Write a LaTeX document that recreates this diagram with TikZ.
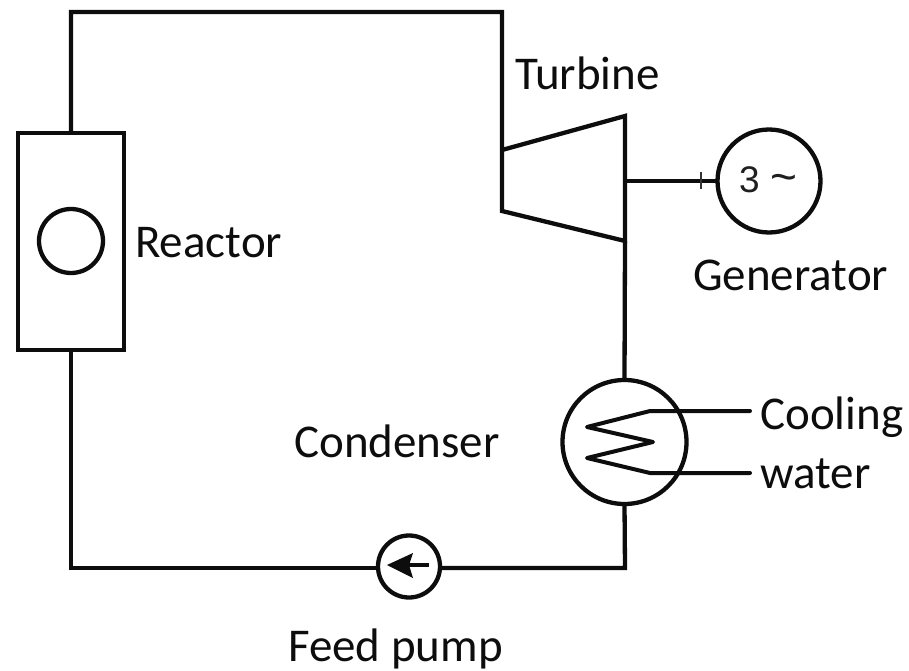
\documentclass[tikz,border=0pt]{standalone}
\usepackage{fontspec}
\setmainfont{Carlito}
\newfontfamily\genfont{Liberation Sans}
\begin{document}
\begin{tikzpicture}[x=1pt,y=-1pt,
  pipe/.style={line width=4.3pt,draw=black!95,line join=miter},
  thin pipe/.style={line width=4pt,draw=black!95},
  ring/.style={circle,draw=black!95,line width=4.3pt,fill=white,inner sep=0pt,minimum size=#1,outer sep=0pt},
  lab/.style={font=\fontsize{47}{47}\selectfont,inner sep=0pt,text=black!95}]
\useasboundingbox (0,0) rectangle (909,671);
% turbine corners and junctions
\coordinate (tl1) at (502,150);
\coordinate (tl2) at (502,211);
\coordinate (tr1) at (625,116);
\coordinate (tr2) at (625,241);
\coordinate (ts) at (625,181);
\coordinate (c1) at (71,12);
\coordinate (c2) at (502,12);
\coordinate (c3) at (71,568);
\coordinate (c4) at (625,568);
% components
\node[draw=black!95,line width=4.3pt,fill=white,minimum width=106pt,minimum height=217pt,inner sep=0pt,outer sep=0pt] (reactor) at (71,241.5) {};
\node[ring=64pt] (core) at (71,241) {};
\node[ring=103pt] (gen) at (769,181) {};
\node[font=\genfont\fontsize{37}{37}\selectfont,inner sep=0pt,text=black!88] (gentext) at (768,180) {3 \fontsize{46}{46}\selectfont\textasciitilde};
\node[ring=124pt] (cond) at (624.5,442) {};
\node[ring=62pt] (pump) at (409,566.5) {};
% pipes
\draw[pipe] (reactor.north -| c1) -- (c1) -- (c2) -- (tl2) -- (tr2) -- (tr1) -- (tl1);
\draw[pipe] (tr2) -- (cond.north);
\draw[pipe] (cond.south) -- (c4) -- (pump.east |- c4);
\draw[pipe] (pump.west |- c3) -- (c3) -- (reactor.south -| c3);
\draw[thin pipe] (ts) -- (gen.west);
\coordinate (tick1) at (701,172);
\coordinate (tick2) at (701,189);
\draw[line width=2pt,draw=black!80] (tick1) -- (tick2);
% coil
\coordinate (cw1) at (750,411);
\coordinate (cw2) at (750,473);
\draw[thin pipe,line join=round,line cap=round] (cw1) -- (650,411) -- (587,427) -- (653,442) -- (587,458) -- (650,473) -- (cw2);
% pump arrow
\coordinate (pa1) at (429,565);
\coordinate (pa2) at (400,565);
\draw[thin pipe] (pa1) -- (pa2);
\fill[black!95] (387,565) -- (413,553) -- (409,565) -- (413,578) -- cycle;
% labels
\node[lab,anchor=base west] (tTurbine) at (515,90) {Turbine};
\node[lab,anchor=base west] (tReactor) at (135,257) {Reactor};
\node[lab,anchor=base west] (tGenerator) at (693,290) {Generator};
\node[lab,anchor=base west] (tCondenser) at (294,457) {Condenser};
\node[lab,anchor=base west] (tCooling) at (760,429) {Cooling};
\node[lab,anchor=base west] (tWater) at (760,488) {water};
\node[lab,anchor=base west] (tFeed) at (288,661) {Feed pump};
\end{tikzpicture}
\end{document}
